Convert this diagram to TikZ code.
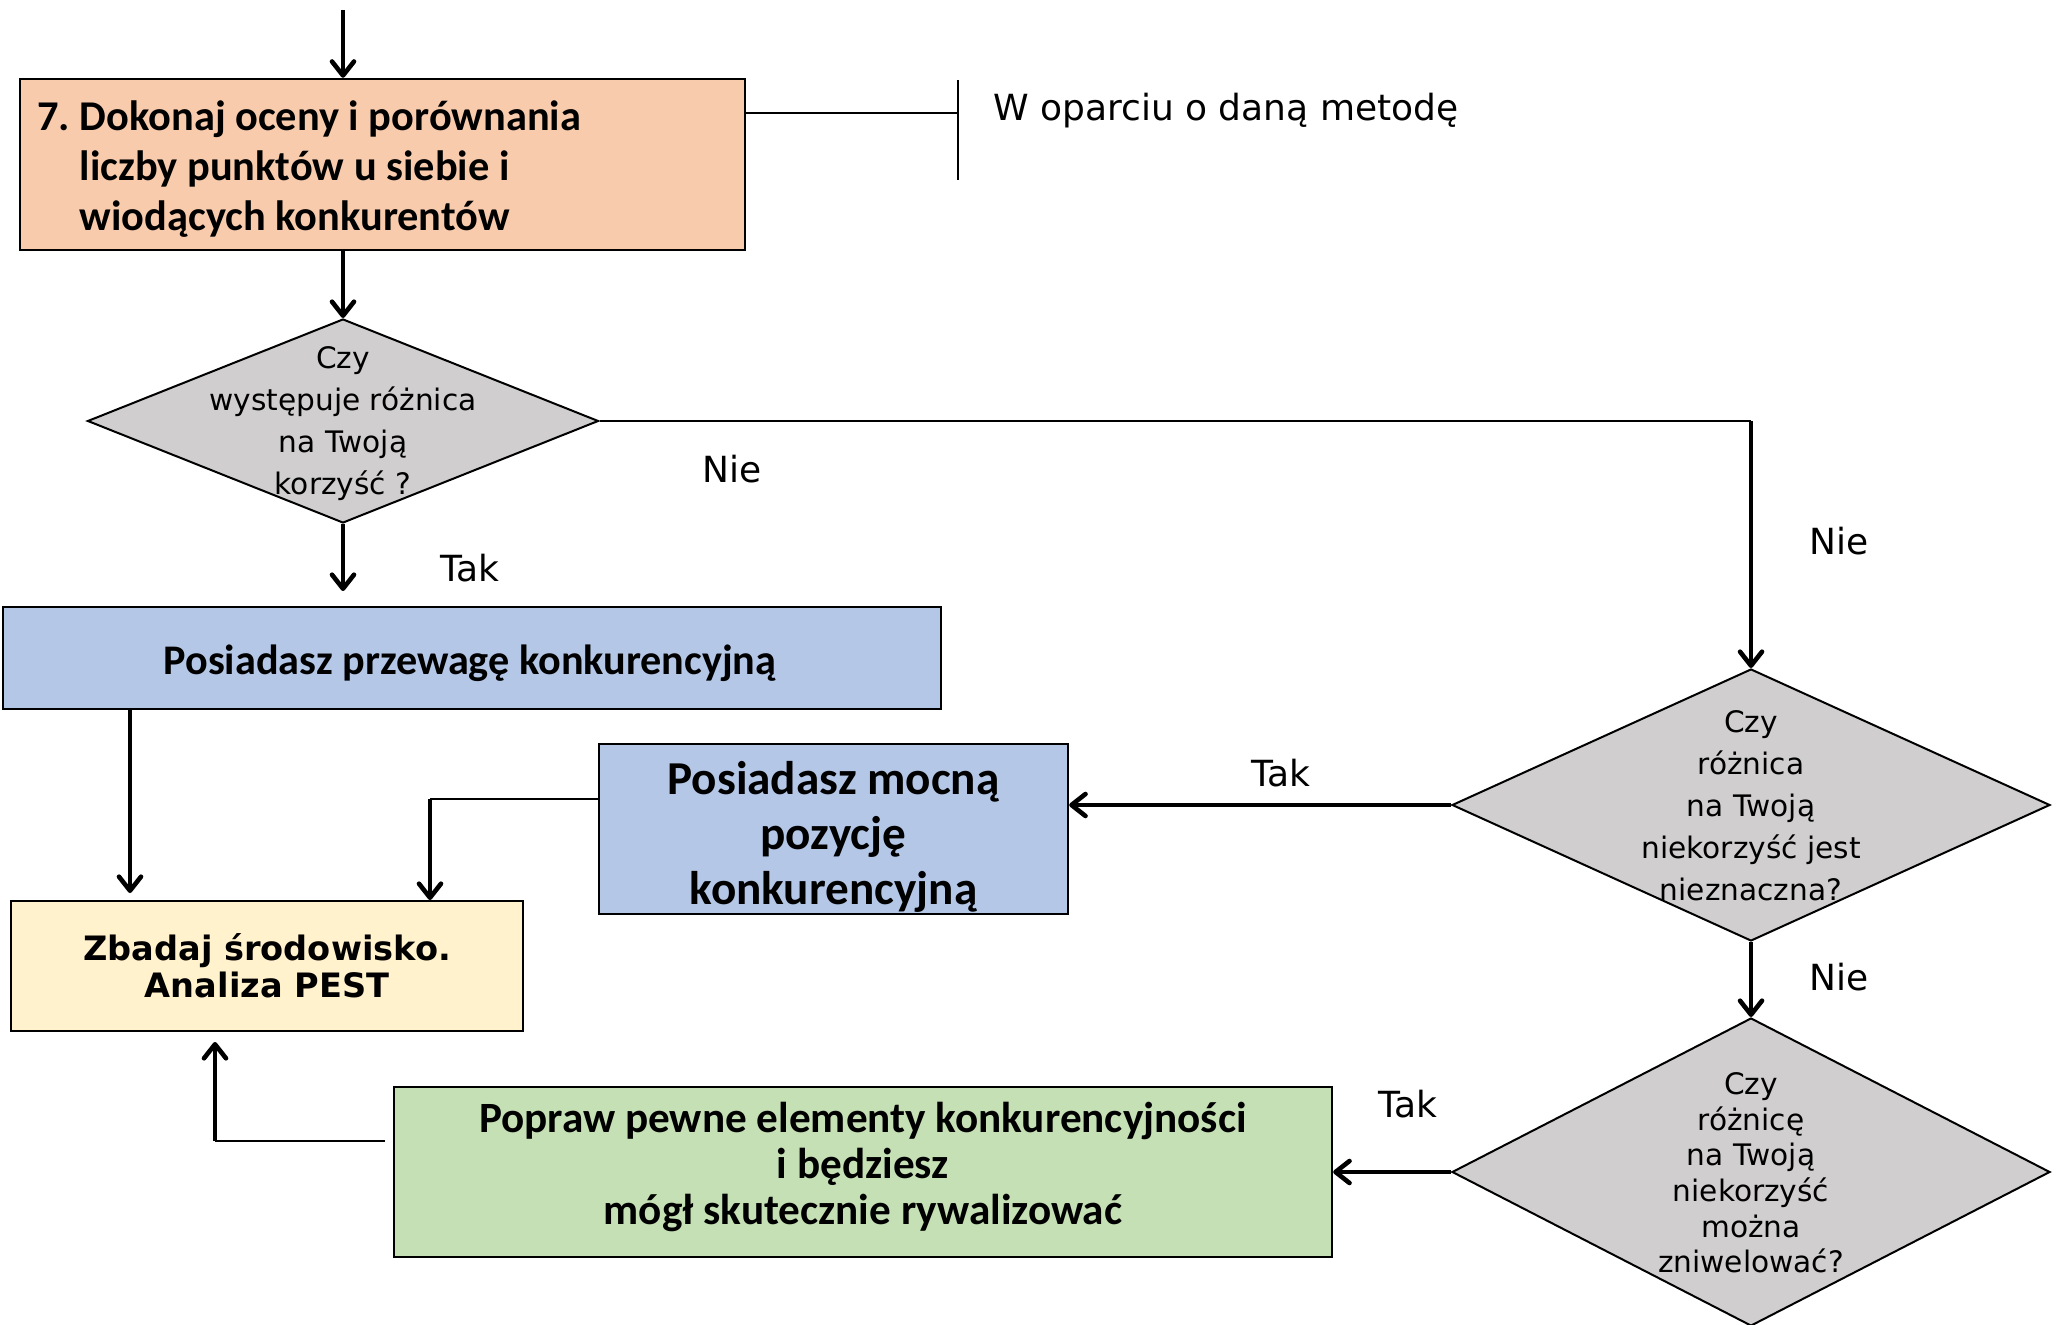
\documentclass[tikz,border=0pt]{standalone}
\usepackage{fontspec}
\setmainfont{Carlito}
\newfontfamily\lblfont{DejaVu Sans}
\usetikzlibrary{shapes.geometric,arrows.meta}
\definecolor{peach}{HTML}{F8CBAD}
\definecolor{bluebox}{HTML}{B4C7E7}
\definecolor{creambox}{HTML}{FFF2CC}
\definecolor{greenbox}{HTML}{C5E0B4}
\definecolor{diagray}{HTML}{D0CECE}
\tikzset{
  box/.style={draw=black, line width=1.2pt, inner sep=0pt, align=center},
  decision/.style={draw=black, line width=1pt, fill=diagray, shape=diamond, inner sep=0pt},
  dtext/.style={font=\lblfont\fontsize{14.8pt}{21pt}\selectfont, align=center, inner sep=0pt},
  lbl/.style={font=\lblfont\fontsize{18pt}{21pt}\selectfont, inner sep=0pt},
  arr/.style={line width=2.3pt, -{Straight Barb[length=7pt,width=11pt,line width=2.3pt,round]}},
  thinline/.style={line width=1.3pt},
}
\begin{document}
\begin{tikzpicture}[x=0.5pt,y=-0.5pt]
\useasboundingbox (0,0) rectangle (2060,1325);

% process boxes
\node[box, fill=peach, minimum width=362.5pt, minimum height=85.5pt] (eval) at (382.5,164.5) {};
\node[anchor=west, align=left, inner sep=0pt,
      font=\bfseries\fontsize{21.2pt}{25.2pt}\selectfont] (evaltext) at (37,169)
  {7.\ Dokonaj oceny i porównania\\\hphantom{7.\ }liczby punktów u siebie i\\\hphantom{7.\ }wiodących konkurentów};

\node[box, fill=bluebox, minimum width=469pt, minimum height=51pt] (adv) at (472,658) {};
\node[inner sep=0pt, font=\bfseries\fontsize{21.1pt}{25pt}\selectfont] (advtext) at (470,663)
  {Posiadasz przewagę konkurencyjną};

\node[box, fill=bluebox, minimum width=234.5pt, minimum height=85pt] (strong) at (833.5,829) {};
\node[inner sep=0pt, align=center, font=\bfseries\fontsize{23.6pt}{27.5pt}\selectfont] (strongtext) at (833.5,837)
  {Posiadasz mocną\\pozycję\\konkurencyjną};

\node[box, fill=creambox, minimum width=256pt, minimum height=65pt,
      font=\lblfont\bfseries\fontsize{16.8pt}{18.5pt}\selectfont] (pest) at (267,966)
  {Zbadaj środowisko.\\Analiza PEST};

\node[box, fill=greenbox, minimum width=469pt, minimum height=85pt] (improve) at (863,1172) {};
\node[inner sep=0pt, align=center, font=\bfseries\fontsize{21.6pt}{22.8pt}\selectfont] (improvetext) at (863,1167)
  {Popraw pewne elementy konkurencyjności\\i będziesz\\mógł skutecznie rywalizować};

% decisions
\node[decision, minimum width=255.5pt, minimum height=102pt] (d1) at (343,421) {};
\node[dtext] (d1text) at (343,424) {Czy\\występuje różnica\\na Twoją\\korzyść ?};

\node[decision, minimum width=299pt, minimum height=136pt] (d2) at (1751,805) {};
\node[dtext] (d2text) at (1751,806) {Czy\\różnica\\na Twoją\\niekorzyść jest\\nieznaczna?};

\node[decision, minimum width=299pt, minimum height=154pt] (d3) at (1751,1172) {};
\node[dtext, font=\lblfont\fontsize{14.8pt}{17.8pt}\selectfont] (d3text) at (1751,1173)
  {Czy\\różnicę\\na Twoją\\niekorzyść\\można\\zniwelować?};

% side note
\coordinate (brk) at (958,113);
\coordinate (brkTop) at (958,80);
\coordinate (brkBot) at (958,180);
\node[lbl, anchor=west] (note) at (993,111) {W oparciu o daną metodę};
\draw[line width=1pt] (brk -| eval.east) -- (brk);
\draw[line width=1pt] (brkTop) -- (brkBot);

% flow
\coordinate (start) at (343,10);
\draw[arr] (start) -- (start |- eval.north);
\draw[arr] (d1.north |- eval.south) -- (d1.north);

\coordinate (yesEnd) at (343,591);
\draw[arr] (d1.south) -- (yesEnd);
\node[lbl] (tak1) at (470,568) {Tak};

\coordinate (noCorner) at (d2.north |- d1.east);
\draw[thinline] (d1.east) -- (noCorner);
\draw[arr] (noCorner) -- (d2.north);
\node[lbl] (nie1) at (732,469) {Nie};
\node[lbl] (nie2) at (1839,541) {Nie};

\draw[arr] (d2.west) -- (d2.west -| strong.east);
\node[lbl] (tak2) at (1281,773) {Tak};

\draw[arr] (d2.south) -- (d3.north);
\node[lbl] (nie3) at (1839,977) {Nie};

\draw[arr] (d3.west) -- (improve.east);
\node[lbl] (tak3) at (1408,1104) {Tak};

\coordinate (advDown) at (130,893);
\draw[arr] (advDown |- adv.south) -- (advDown);

\coordinate (strongCorner) at (430,799);
\coordinate (strongDown) at (430,900);
\draw[thinline] (strongCorner -| strong.west) -- (strongCorner);
\draw[arr] (strongCorner) -- (strongDown);

\coordinate (impCorner) at (215,1141);
\coordinate (impStart) at (385,1141);
\coordinate (impUp) at (215,1042);
\draw[thinline] (impStart) -- (impCorner);
\draw[arr] (impCorner) -- (impUp);
\end{tikzpicture}
\end{document}
